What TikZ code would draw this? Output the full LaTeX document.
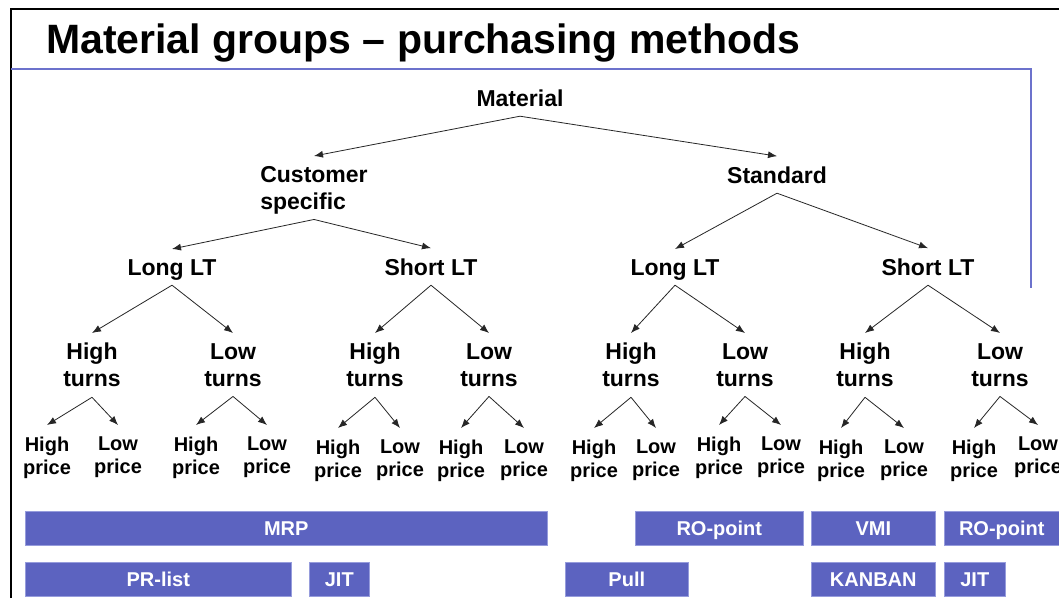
\documentclass[tikz,border=0pt]{standalone}
\usepackage{fontspec}
\setmainfont{Liberation Sans}
\usetikzlibrary{arrows.meta}
\definecolor{barblue}{RGB}{92,99,192}
\definecolor{barline}{RGB}{150,156,220}
\definecolor{rulecol}{RGB}{108,114,204}

\begin{document}
\begin{tikzpicture}[x=1pt,y=-1pt,
  lvl/.style={font=\fontsize{23}{27}\selectfont\bfseries, align=center, inner xsep=2pt, inner ysep=10pt},
  single/.style={lvl, text depth=0pt, anchor=base},
  multi/.style={lvl, anchor=north},
  leaf/.style={font=\fontsize{20}{23}\selectfont\bfseries, align=center, inner xsep=1pt, inner ysep=12pt, anchor=north},
  link/.style={-{Latex[length=9pt,width=7pt]}, line width=0.8pt, black!85},
  method/.style={fill=barblue, draw=barline, line width=0.6pt, text=white,
    font=\fontsize{20}{20}\selectfont\bfseries, inner sep=0pt,
    text height=14.4pt, text depth=0pt,
    minimum height=34pt, anchor=north west}]
\useasboundingbox (0,0) rectangle (1059,598);
\fill[white] (0,0) rectangle (1059,598);

% frame and title
\draw[line width=2pt] (11,598) -- (11,9) -- (1059,9);
\draw[rulecol, line width=2pt] (11,69) -- (1031,69) -- (1031,288);
\node[anchor=base west, font=\fontsize{41}{41}\selectfont\bfseries, inner sep=0pt] (title) at (46,53)
  {Material groups – purchasing methods};

% tree levels (single lines placed by baseline, stacked lines by top)
\node[single] (mat) at (520,106) {Material};
\node[multi, align=left] (cs) at (314,156) {Customer\\\smash{specific}};
\node[single] (std) at (777,183) {Standard};

\node[single] (csl) at (172,275) {Long LT};
\node[single] (css) at (431,275) {Short LT};
\node[single] (stl) at (675,275) {Long LT};
\node[single] (sts) at (928,275) {Short LT};

\node[multi] (t1) at (92,333) {High\\turns};
\node[multi] (t2) at (233,333) {Low\\turns};
\node[multi] (t3) at (375,333) {High\\turns};
\node[multi] (t4) at (489,333) {Low\\turns};
\node[multi] (t5) at (631,333) {High\\turns};
\node[multi] (t6) at (745,333) {Low\\turns};
\node[multi] (t7) at (865,333) {High\\turns};
\node[multi] (t8) at (1000,333) {Low\\turns};

\node[leaf] (p1) at (47,425) {High\\price};
\node[leaf] (p2) at (118,425) {Low\\price};
\node[leaf] (p3) at (196,425) {High\\price};
\node[leaf] (p4) at (267,425) {Low\\price};
\node[leaf] (p5) at (338,428) {High\\price};
\node[leaf] (p6) at (400,428) {Low\\price};
\node[leaf] (p7) at (461,428) {High\\price};
\node[leaf] (p8) at (524,428) {Low\\price};
\node[leaf] (p9) at (594,428) {High\\price};
\node[leaf] (p10) at (656,428) {Low\\price};
\node[leaf] (p11) at (719,425) {High\\price};
\node[leaf] (p12) at (781,425) {Low\\price};
\node[leaf] (p13) at (841,428) {High\\price};
\node[leaf] (p14) at (904,428) {Low\\price};
\node[leaf] (p15) at (974,428) {High\\price};
\node[leaf] (p16) at (1038,425) {Low\\price};

% connectors
\draw[link] (mat.south) -- (cs.north);
\draw[link] (mat.south) -- (std.north);
\draw[link] (cs.south) -- (csl.north);
\draw[link] (cs.south) -- (css.north);
\draw[link] (std.south) -- (stl.north);
\draw[link] (std.south) -- (sts.north);
\draw[link] (csl.south) -- (t1.north);
\draw[link] (csl.south) -- (t2.north);
\draw[link] (css.south) -- (t3.north);
\draw[link] (css.south) -- (t4.north);
\draw[link] (stl.south) -- (t5.north);
\draw[link] (stl.south) -- (t6.north);
\draw[link] (sts.south) -- (t7.north);
\draw[link] (sts.south) -- (t8.north);
\foreach \t/\a/\b in {t1/p1/p2, t2/p3/p4, t3/p5/p6, t4/p7/p8,
                      t5/p9/p10, t6/p11/p12, t7/p13/p14, t8/p15/p16} {
  \draw[link] (\t.south) -- (\a.north);
  \draw[link] (\t.south) -- (\b.north);
}

% purchasing methods
\node[method, minimum width=522pt] (mrp) at (25,511) {MRP};
\node[method, minimum width=168pt] (ro1) at (635,511) {RO-point};
\node[method, minimum width=124pt] (vmi) at (811,511) {VMI};
\node[method, minimum width=115pt] (ro2) at (944,511) {RO-point};
\node[method, minimum width=266pt] (prl) at (25,562) {PR-list};
\node[method, minimum width=60pt] (jit1) at (309,562) {JIT};
\node[method, minimum width=123pt] (pull) at (565,562) {Pull};
\node[method, minimum width=124pt] (kan) at (811,562) {KANBAN};
\node[method, minimum width=61pt] (jit2) at (944,562) {JIT};
\end{tikzpicture}
\end{document}
